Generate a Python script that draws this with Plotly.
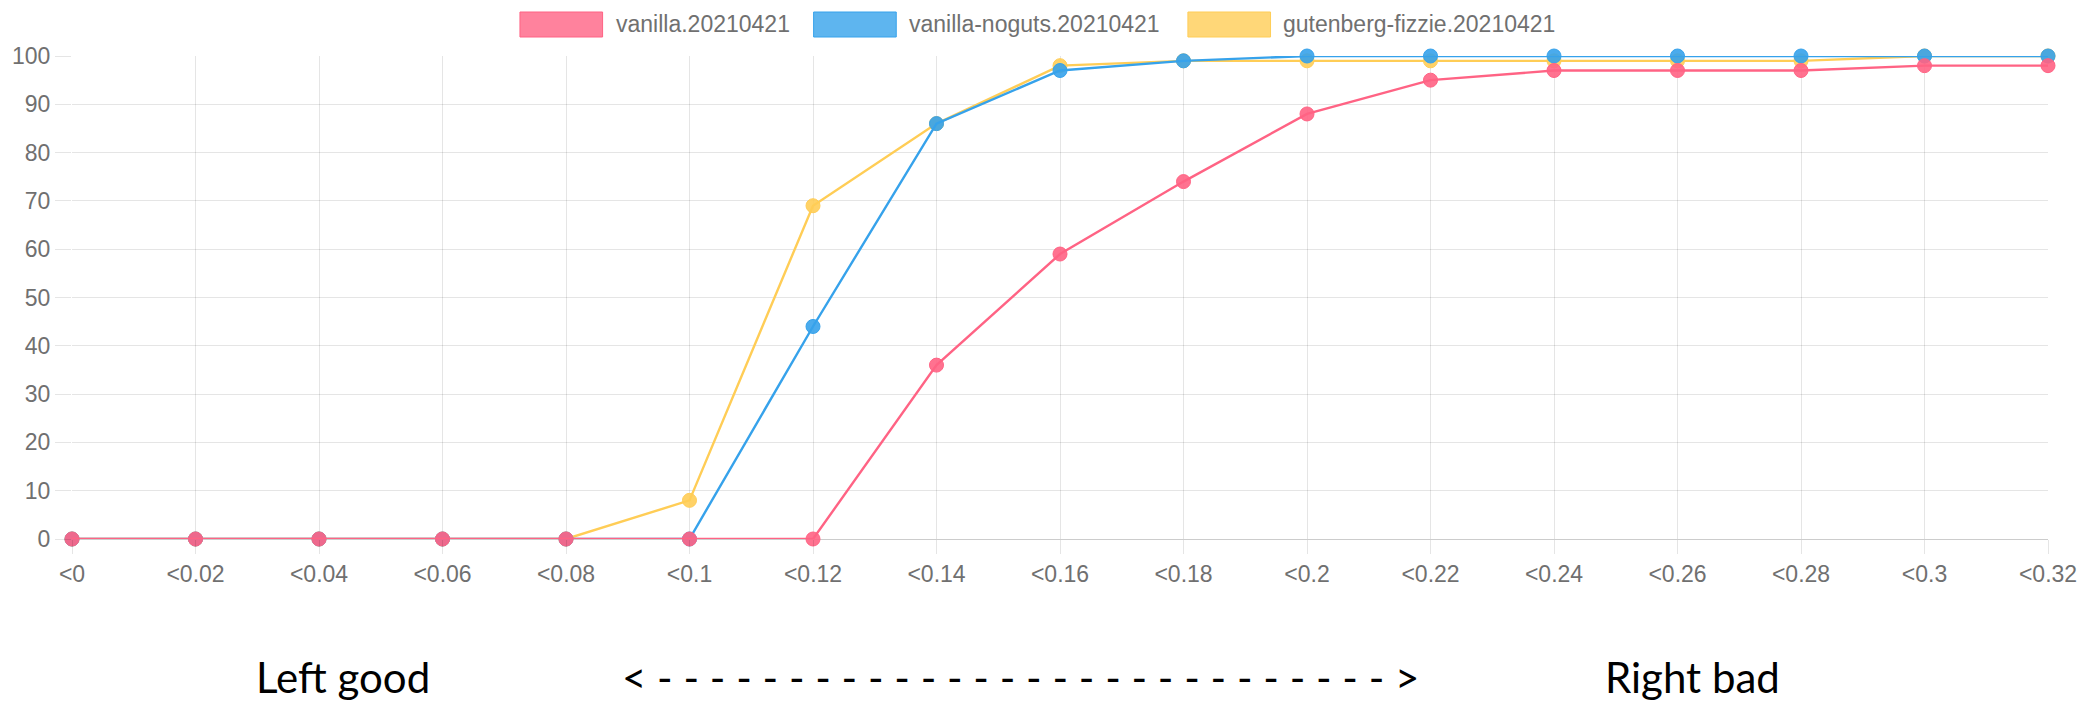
import plotly.graph_objects as go

categories = ["<0", "<0.02", "<0.04", "<0.06", "<0.08", "<0.1", "<0.12", "<0.14", "<0.16",
              "<0.18", "<0.2", "<0.22", "<0.24", "<0.26", "<0.28", "<0.3", "<0.32"]
vanilla = [0, 0, 0, 0, 0, 0, 0, 36, 59, 74, 88, 95, 97, 97, 97, 98, 98]
vanilla_noguts = [0, 0, 0, 0, 0, 0, 44, 86, 97, 99, 100, 100, 100, 100, 100, 100, 100]
gutenberg_fizzie = [0, 0, 0, 0, 0, 8, 69, 86, 98, 99, 99, 99, 99, 99, 99, 100, 100]

series_names = ["vanilla.20210421", "vanilla-noguts.20210421", "gutenberg-fizzie.20210421"]
series_values = [vanilla, vanilla_noguts, gutenberg_fizzie]
series_rgb = [(255, 99, 132), (54, 162, 235), (255, 205, 86)]

y_ticks = list(range(0, 101, 10))
bottom_labels = ["Left good", "< " + "- " * 28 + ">", "Right bad"]

W, H = 2089, 702
L, R, T, B = 69, 35, 56, 163
pw, ph = W - L - R, H - T - B

def px2paper_x(px):
    return (px - L) / pw

def px2paper_y(py):
    return (H - B - py) / ph

fig = go.Figure()
# draw in reverse so the first series sits on top (Chart.js order)
for name, vals, (r, g, b) in reversed(list(zip(series_names, series_values, series_rgb))):
    fig.add_trace(go.Scatter(
        x=categories, y=vals, name=name, mode="lines+markers",
        line=dict(color=f"rgb({r},{g},{b})", width=2.4),
        marker=dict(size=14, color=f"rgba({r},{g},{b},0.9)",
                    line=dict(color=f"rgb({r},{g},{b})", width=1)),
        cliponaxis=False, showlegend=False,
    ))

grid = "rgba(0,0,0,0.1)"
tick_color = "#707070"
fig.update_xaxes(
    type="category", categoryorder="array", categoryarray=categories,
    range=[0, len(categories) - 1], showgrid=True, gridcolor=grid, gridwidth=1,
    ticks="outside", ticklen=14, tickcolor=grid, tickwidth=1,
    showline=False, zeroline=False,
    tickfont=dict(family="Liberation Sans, Arial", size=23, color=tick_color),
)
fig.update_yaxes(
    range=[0, 100], tickvals=y_ticks, showgrid=True, gridcolor=grid, gridwidth=1,
    ticks="outside", ticklen=16, tickcolor=grid, tickwidth=1,
    zeroline=True, zerolinecolor="rgba(0,0,0,0.2)", zerolinewidth=1,
    showline=False,
    tickfont=dict(family="Liberation Sans, Arial", size=23, color=tick_color),
)

# Chart.js style legend (boxes + labels) across the top
legend_box_left = [519, 814, 1190]
box_w, box_top, box_bot = 83, 12, 37
shapes, annotations = [], []
for name, (r, g, b), x0 in zip(series_names, series_rgb, legend_box_left):
    shapes.append(dict(type="rect", xref="paper", yref="paper",
                       x0=px2paper_x(x0), x1=px2paper_x(x0 + box_w),
                       y0=px2paper_y(box_bot), y1=px2paper_y(box_top),
                       fillcolor=f"rgba({r},{g},{b},0.8)",
                       line=dict(color=f"rgb({r},{g},{b})", width=1)))
    annotations.append(dict(text=name, xref="paper", yref="paper",
                            x=px2paper_x(x0 + box_w + 11), y=px2paper_y((box_top + box_bot) / 2),
                            xanchor="left", yanchor="middle", showarrow=False,
                            font=dict(family="Liberation Sans, Arial", size=23, color=tick_color)))

bottom_centers = [341, 1022, 1697]
for txt, cx in zip(bottom_labels, bottom_centers):
    annotations.append(dict(text=txt, xref="paper", yref="paper",
                            x=px2paper_x(cx), y=px2paper_y(677),
                            xanchor="center", yanchor="middle", showarrow=False,
                            font=dict(family="Lato", size=42, color="#000")))

fig.update_layout(
    width=W, height=H, margin=dict(l=L, r=R, t=T, b=B, pad=0),
    plot_bgcolor="white", paper_bgcolor="white",
    shapes=shapes, annotations=annotations, showlegend=False,
)

fig.write_html("out.html", config={"displayModeBar": False},
               post_script="document.body.style.margin='0';document.body.style.overflow='hidden';")
